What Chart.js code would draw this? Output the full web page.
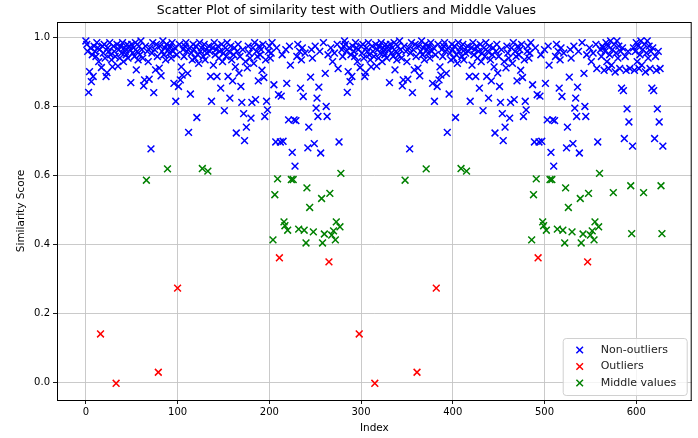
<!DOCTYPE html>
<html>
<head>
<meta charset="utf-8">
<title>Scatter Plot of similarity test</title>
<script src="https://cdn.jsdelivr.net/npm/chart.js@4.4.1/dist/chart.umd.min.js"></script>
<style>
  html, body { margin: 0; padding: 0; background: #fff; }
  #wrap { width: 698px; height: 438px; }
</style>
</head>
<body>
<div id="wrap"><canvas id="myChart" width="698" height="438"></canvas></div>
<script>
'use strict';

// similarity scores, index 0..281 (this block shows up twice in the picture)
let blockA = [
  0.99, 0.98, 0.96, 0.841, 0.901, 0.97, 0.872, 0.95, 0.887, 0.975,
  0.96, 0.945, 0.985, 0.97, 0.93, 0.965, 0.14, 0.913, 0.975, 0.955,
  0.98, 0.94, 0.887, 0.898, 0.97, 0.96, 0.985, 0.95, 0.935, 0.915,
  0.975, 0.96, 0.945, -0.003, 0.98, 0.917, 0.965, 0.94, 0.975, 0.955,
  0.985, 0.93, 0.97, 0.96, 0.95, 0.98, 0.94, 0.975, 0.965, 0.869,
  0.98, 0.955, 0.97, 0.945, 0.985, 0.906, 0.96, 0.935, 0.975, 0.95,
  0.99, 0.965, 0.94, 0.86, 0.877, 0.975, 0.586, 0.96, 0.93, 0.879,
  0.97, 0.677, 0.955, 0.985, 0.84, 0.965, 0.906, 0.98, 0.945, 0.029,
  0.911, 0.975, 0.889, 0.96, 0.99, 0.95, 0.97, 0.935, 0.98, 0.619,
  0.965, 0.955, 0.975, 0.94, 0.985, 0.96, 0.867, 0.97, 0.815, 0.95,
  0.273, 0.858, 0.98, 0.877, 0.915, 0.891, 0.965, 0.945, 0.975, 0.985,
  0.96, 0.896, 0.725, 0.97, 0.836, 0.955, 0.935, 0.98, 0.965, 0.94,
  0.975, 0.768, 0.95, 0.925, 0.985, 0.96, 0.97, 0.62, 0.945, 0.98,
  0.935, 0.965, 0.955, 0.6125, 0.975, 0.96, 0.887, 0.815, 0.97, 0.92,
  0.985, 0.95, 0.965, 0.887, 0.975, 0.94, 0.96, 0.853, 0.98, 0.93,
  0.955, 0.788, 0.97, 0.945, 0.985, 0.887, 0.96, 0.824, 0.975, 0.935,
  0.874, 0.95, 0.97, 0.915, 0.723, 0.96, 0.98, 0.897, 0.945, 0.858,
  0.812, 0.965, 0.779, 0.701, 0.93, 0.74, 0.912, 0.975, 0.955, 0.94,
  0.766, 0.812, 0.97, 0.925, 0.985, 0.82, 0.96, 0.945, 0.874, 0.975,
  0.95, 0.965, 0.905, 0.98, 0.884, 0.771, 0.935, 0.815, 0.79, 0.96,
  0.975, 0.94, 0.955, 0.985, 0.413, 0.863, 0.544, 0.697, 0.97, 0.59,
  0.834, 0.361, 0.697, 0.83, 0.95, 0.699, 0.465, 0.454, 0.965, 0.867,
  0.441, 0.761, 0.975, 0.92, 0.588, 0.667, 0.588, 0.761, 0.627, 0.759,
  0.945, 0.98, 0.444, 0.96, 0.853, 0.935, 0.97, 0.829, 0.441, 0.955,
  0.404, 0.564, 0.68, 0.74, 0.507, 0.885, 0.965, 0.94, 0.436, 0.692,
  0.975, 0.795, 0.824, 0.771, 0.856, 0.96, 0.665, 0.533, 0.404, 0.985,
  0.43, 0.896, 0.8, 0.771, 0.95, 0.349, 0.548, 0.97, 0.427, 0.93,
  0.439, 0.955, 0.413, 0.465, 0.98, 0.91, 0.697, 0.451, 0.606, 0.965,
  0.945, 0.975
];

// short block at the end, also drawn twice (index 564..629)
let blockB = [
  0.97, 0.905, 0.96, 0.985, 0.93, 0.975, 0.91, 0.95, 0.99, 0.92,
  0.965, 0.55, 0.98, 0.9, 0.955, 0.99, 0.94, 0.975, 0.91, 0.96,
  0.853, 0.97, 0.846, 0.707, 0.945, 0.905, 0.793, 0.96, 0.755, 0.91,
  0.57, 0.431, 0.685
];

let scores = blockA.concat(blockA, blockB, blockB);

let seriesNames = ['Non-outliers', 'Outliers', 'Middle values'];
let seriesColors = ['#0000ff', '#ff0000', '#008000'];
let outlierCut = 0.4;
let middleCut = 0.625;

let xTicks = [0, 100, 200, 300, 400, 500, 600];
let yTicks = [0.0, 0.2, 0.4, 0.6, 0.8, 1.0];

// split scores into the three groups
let normalPts = [];
let outlierPts = [];
let middlePts = [];
for (let i = 0; i < scores.length; i++) {
  let p = { x: i, y: scores[i] };
  if (scores[i] < outlierCut) {
    outlierPts.push(p);
  } else if (scores[i] < middleCut) {
    middlePts.push(p);
  } else {
    normalPts.push(p);
  }
}

function makeSet(idx, pts, order) {
  return {
    label: seriesNames[idx],
    data: pts,
    pointStyle: 'crossRot',
    pointRadius: 4.8,
    pointHoverRadius: 4.8,
    borderColor: seriesColors[idx],
    backgroundColor: seriesColors[idx],
    borderWidth: 1.5,
    order: order
  };
}

// legend box in the lower right corner + top/right spines
const framePlugin = {
  id: 'frame',
  afterDraw(chart) {
    let ctx = chart.ctx;
    let a = chart.chartArea;
    ctx.save();
    ctx.strokeStyle = '#000';
    ctx.lineWidth = 1;
    ctx.strokeRect(a.left + 0.5, a.top + 0.5, a.right - a.left - 1, a.bottom - a.top);

    let w = 124, h = 57;
    let bx = a.right - 5 - w, by = a.bottom - 5 - h;
    ctx.fillStyle = 'rgba(255,255,255,0.8)';
    ctx.strokeStyle = '#d0d0d0';
    ctx.beginPath();
    ctx.roundRect(bx + 0.5, by + 0.5, w, h, 3);
    ctx.fill();
    ctx.stroke();

    ctx.font = '11px "DejaVu Sans"';
    ctx.textBaseline = 'middle';
    for (let i = 0; i < seriesNames.length; i++) {
      let cy = by + 12 + i * 16.5;
      let cx = bx + 17;
      ctx.strokeStyle = seriesColors[i];
      ctx.lineWidth = 1.5;
      ctx.beginPath();
      ctx.moveTo(cx - 3.3, cy - 3.3); ctx.lineTo(cx + 3.3, cy + 3.3);
      ctx.moveTo(cx - 3.3, cy + 3.3); ctx.lineTo(cx + 3.3, cy - 3.3);
      ctx.stroke();
      ctx.fillStyle = '#222';
      ctx.fillText(seriesNames[i], bx + 38, cy);
    }
    ctx.restore();
  }
};

const config = {
  type: 'scatter',
  data: {
    datasets: [
      makeSet(0, normalPts, 2),
      makeSet(1, outlierPts, 1),
      makeSet(2, middlePts, 0)
    ]
  },
  options: {
    responsive: false,
    animation: false,
    layout: { padding: { left: 0, right: 5, top: 0, bottom: 0 } },
    plugins: {
      legend: { display: false },
      tooltip: { enabled: false },
      title: {
        display: true,
        text: 'Scatter Plot of similarity test with Outliers and Middle Values',
        color: '#000',
        font: { family: 'DejaVu Sans', size: 12.5, weight: 'normal' },
        padding: { top: 3, bottom: 4 }
      }
    },
    scales: {
      x: {
        type: 'linear',
        min: -31.45,
        max: 660.45,
        afterBuildTicks: s => { s.ticks = xTicks.map(v => ({ value: v })); },
        afterFit: s => { s.height = 38; s.paddingLeft = 0; s.paddingRight = 0; },
        grid: { color: '#c4c4c4', lineWidth: 0.9, tickColor: '#000', tickLength: 4 },
        border: { color: '#000', width: 1 },
        ticks: {
          color: '#000',
          font: { family: 'DejaVu Sans', size: 10 },
          padding: 2,
          maxRotation: 0,
          callback: v => String(v)
        },
        title: {
          display: true,
          text: 'Index',
          color: '#000',
          font: { family: 'DejaVu Sans', size: 10.5 },
          padding: { top: 2, bottom: 3 }
        }
      },
      y: {
        type: 'linear',
        min: -0.0515,
        max: 1.045,
        afterBuildTicks: s => { s.ticks = yTicks.map(v => ({ value: v })); },
        afterFit: s => { s.width = 57; s.paddingTop = 0; s.paddingBottom = 0; },
        grid: { color: '#c4c4c4', lineWidth: 0.9, tickColor: '#000', tickLength: 4 },
        border: { color: '#000', width: 1 },
        ticks: {
          color: '#000',
          font: { family: 'DejaVu Sans', size: 10 },
          padding: 3,
          callback: v => v.toFixed(1)
        },
        title: {
          display: true,
          text: 'Similarity Score',
          color: '#000',
          font: { family: 'DejaVu Sans', size: 10.5 },
          padding: { top: 15, bottom: 0 }
        }
      }
    }
  },
  plugins: [framePlugin]
};

const myChart = new Chart(document.getElementById('myChart'), config);
</script>
</body>
</html>
